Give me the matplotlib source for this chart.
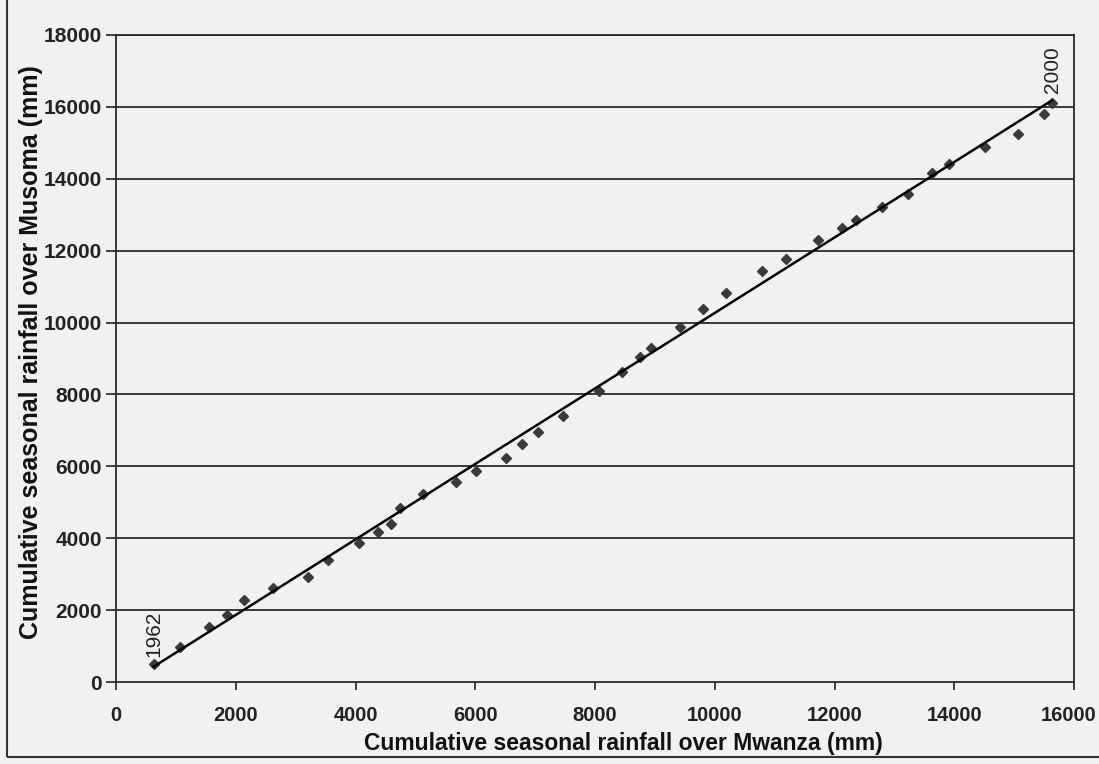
import numpy as np
import matplotlib
matplotlib.use("Agg")
import matplotlib.pyplot as plt
import matplotlib.transforms as mtransforms
from matplotlib.patches import Rectangle

# Cumulative seasonal rainfall (mm), 1962-2000
mwanza = [626, 1073, 1560, 1856, 2135, 2621, 3208, 3534, 4064, 4372,
          4595, 4746, 5127, 5674, 6010, 6507, 6776, 7044, 7458, 8072,
          8453, 8749, 8939, 9414, 9795, 10186, 10789, 11181, 11723, 12131,
          12355, 12785, 13233, 13624, 13904, 14520, 15061, 15497, 15636]
musoma = [501, 982, 1521, 1864, 2281, 2606, 2912, 3394, 3875, 4181,
          4395, 4831, 5229, 5572, 5869, 6239, 6620, 6963, 7408, 8103,
          8615, 9049, 9299, 9866, 10367, 10829, 11441, 11758, 12295, 12637,
          12851, 13204, 13574, 14150, 14409, 14873, 15243, 15800, 16114]
first_year = "1962"
last_year = "2000"
x_ticks = [0, 2000, 4000, 6000, 8000, 10000, 12000, 14000, 16000]
y_ticks = [0, 2000, 4000, 6000, 8000, 10000, 12000, 14000, 16000, 18000]

plt.rcParams['font.family'] = ['Liberation Sans', 'DejaVu Sans']

fig = plt.figure(figsize=(10.99, 7.64), dpi=100, facecolor='#f1f1f1')
ax = fig.add_axes([0.1056, 0.1073, 0.9773 - 0.1056, 0.9542 - 0.1073])
ax.set_facecolor('#f1f1f1')

x = np.array(mwanza, dtype=float)
y = np.array(musoma, dtype=float)

ax.set_xlim(0, 16000)
ax.set_ylim(0, 18000)
ax.set_xticks(x_ticks)
ax.set_yticks(y_ticks)
ax.set_xticklabels([str(v) for v in x_ticks], fontsize=14.5, fontweight='bold')
ax.set_yticklabels([str(v) for v in y_ticks], fontsize=15, fontweight='bold')
ax.tick_params(axis='x', direction='out', length=6, width=1.2, pad=11, colors='#222222')
ax.tick_params(axis='y', direction='out', length=7, width=1.2, pad=3, colors='#222222')

# nudge the last x tick label so it stays inside the figure
last_lbl = ax.get_xticklabels()[-1]
last_lbl.set_transform(last_lbl.get_transform() +
                       mtransforms.ScaledTranslation(-5 / 100, 0, fig.dpi_scale_trans))

for yv in y_ticks[1:]:
    ax.axhline(yv, color='#2a2a2a', lw=1.3, zorder=1)

for s in ax.spines.values():
    s.set_color('#2a2a2a')
    s.set_linewidth(1.3)

ax.plot(x, y, linestyle='none', marker='D', markersize=5.5, color='#3a3a3a', zorder=3)

coef = np.polyfit(x, y, 1)
xl = np.array([x[0], x[-1]])
ax.plot(xl, np.polyval(coef, xl), color='black', lw=1.8, zorder=4)

ax.annotate(first_year, (x[0], y[0]), xytext=(0, 5), textcoords='offset points',
            rotation=90, ha='center', va='bottom', fontsize=15, color='#222222')
ax.annotate(last_year, (x[-1], y[-1]), xytext=(0, 7), textcoords='offset points',
            rotation=90, ha='center', va='bottom', fontsize=15, color='#222222')

ax.set_xlabel('Cumulative seasonal rainfall over Mwanza (mm)', fontsize=16.5,
              fontweight='bold', color='#111111')
ax.xaxis.set_label_coords(0.53, -0.0775)
ax.set_ylabel('Cumulative seasonal rainfall over Musoma (mm)', fontsize=18,
              fontweight='bold', color='#111111')
ax.yaxis.set_label_coords(-0.0765, 0.51)

# outer frame of the scanned figure (left and bottom edges visible)
fig.patches.append(Rectangle((0.0068, 0.009), 1.2, 1.2, transform=fig.transFigure,
                             fill=False, edgecolor='#333333', lw=1.5))

fig.savefig('out.png', dpi=100, facecolor=fig.get_facecolor())
